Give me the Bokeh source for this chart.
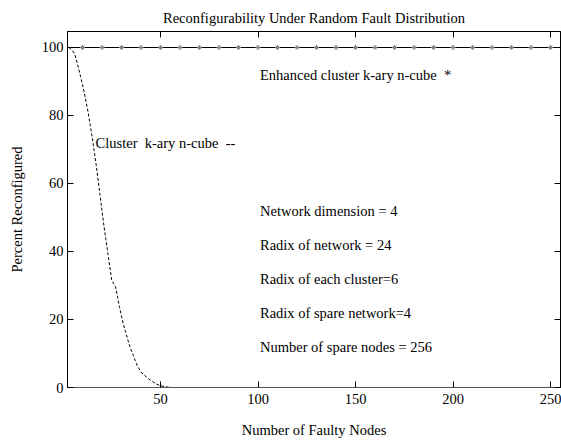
from bokeh.plotting import figure
from bokeh.models import Range1d, LinearAxis, FixedTicker, Label, CustomJSTickFormatter
from bokeh.embed import file_html
from bokeh.resources import INLINE

FONT = "Liberation Serif"

# ---- data ----
x_ticks = [50, 100, 150, 200, 250]
y_ticks = [0, 20, 40, 60, 80, 100]

# Cluster k-ary n-cube (dashed)
cluster_faults = [3, 4, 5, 6, 7, 8, 9, 10, 11, 12, 13, 14, 15, 16, 17, 18, 19, 20,
                  21, 22, 23, 24, 25, 26, 27, 28, 29, 30, 31, 32, 33, 34, 35, 36,
                  37, 38, 39, 40, 42, 44, 46, 48, 50, 52, 54, 56, 60, 65, 70]
cluster_pct = [100, 99.6, 99, 98, 96, 93.8, 91.5, 89, 86.5, 83.5, 80.5, 77, 73.5,
               69.5, 65.5, 61, 56.5, 52, 47.5, 43.5, 39.5, 35.5, 31.5, 30.5, 29.5,
               26.5, 23.5, 21, 18.5, 16.5, 14.5, 12.5, 11, 9.5, 8, 6.5, 5.5, 4.5,
               3.5, 2.5, 1.7, 1.0, 0.5, 0.3, 0.1, 0, 0, 0, 0]

# Enhanced cluster k-ary n-cube (solid line + stars)
enhanced_faults = [3, 256]
enhanced_pct = [100, 100]
star_faults = [10, 20, 30, 40, 50, 60, 70, 80, 90, 100, 110, 120, 130, 140, 150,
               160, 170, 180, 190, 200, 210, 220, 230, 240, 250]
star_pct = [100, 100, 100, 100, 100, 100, 100, 100, 100, 100, 100, 100, 100, 100,
            100, 100, 100, 100, 100, 100, 100, 100, 100, 100, 100]

# annotations
note_x = [101, 16.7, 101, 101, 101, 101, 101]
note_y = [92, 72, 52, 42, 32, 22, 12]
note_text = ["Enhanced cluster k-ary n-cube\u00a0 *",
             "Cluster\u00a0 k-ary n-cube\u00a0 --",
             "Network dimension = 4",
             "Radix of network = 24",
             "Radix of each cluster=6",
             "Radix of spare network=4",
             "Number of spare nodes = 256"]

# ---- figure ----
p = figure(width=561, height=440,
           x_range=Range1d(2.3, 255.1), y_range=Range1d(0, 104.7),
           output_backend="svg", toolbar_location=None,
           min_border_left=67, min_border_right=1,
           min_border_top=31, min_border_bottom=52,
           title="Reconfigurability Under Random Fault Distribution")
p.background_fill_color = "white"
p.border_fill_color = "white"
p.outline_line_color = "black"
p.outline_line_width = 1
p.grid.visible = False

p.title.text_font = FONT
p.title.text_font_size = "14.5px"
p.title.text_font_style = "normal"
p.title.text_color = "black"
p.title.align = "center"
p.title.standoff = 12

blank = CustomJSTickFormatter(code="return ''")

def style_axis(ax, ticks, show_labels=True):
    ax.ticker = FixedTicker(ticks=ticks)
    ax.major_tick_in = 6
    ax.major_tick_out = 0
    ax.minor_tick_in = 0
    ax.minor_tick_out = 0
    ax.axis_line_color = "black"
    ax.major_tick_line_color = "black"
    ax.major_label_text_font = FONT
    ax.major_label_text_font_size = "14.5px"
    ax.major_label_text_color = "black"
    ax.axis_label_text_font = FONT
    ax.axis_label_text_font_size = "14.5px"
    ax.axis_label_text_font_style = "normal"
    ax.axis_label_text_color = "black"
    if not show_labels:
        ax.formatter = blank
        ax.major_label_standoff = 0

xa = p.xaxis[0]
style_axis(xa, x_ticks)
xa.axis_label = "Number of Faulty Nodes"
xa.major_label_standoff = 6
xa.axis_label_standoff = 15
xa.axis_line_color = "#555555"

ya = p.yaxis[0]
style_axis(ya, y_ticks)
ya.axis_label = "Percent Reconfigured"
ya.major_label_standoff = 4
ya.axis_label_standoff = 14

top = LinearAxis()
style_axis(top, x_ticks, show_labels=False)
p.add_layout(top, "above")

right = LinearAxis()
style_axis(right, y_ticks, show_labels=False)
p.add_layout(right, "right")

# ---- data glyphs ----
p.line(enhanced_faults, enhanced_pct, line_color="black", line_width=1.2)
p.scatter(star_faults, star_pct, marker="asterisk", size=5,
          line_color="#808080", line_width=1)
p.line(cluster_faults, cluster_pct, line_color="black", line_width=1,
       line_dash="3 2")

for tx, ty, tt in zip(note_x, note_y, note_text):
    p.add_layout(Label(x=tx, y=ty, text=tt, text_font=FONT,
                       text_font_size="14.5px", text_baseline="middle",
                       text_align="left", text_color="black"))

open("out.html", "w").write(file_html(p, INLINE))
